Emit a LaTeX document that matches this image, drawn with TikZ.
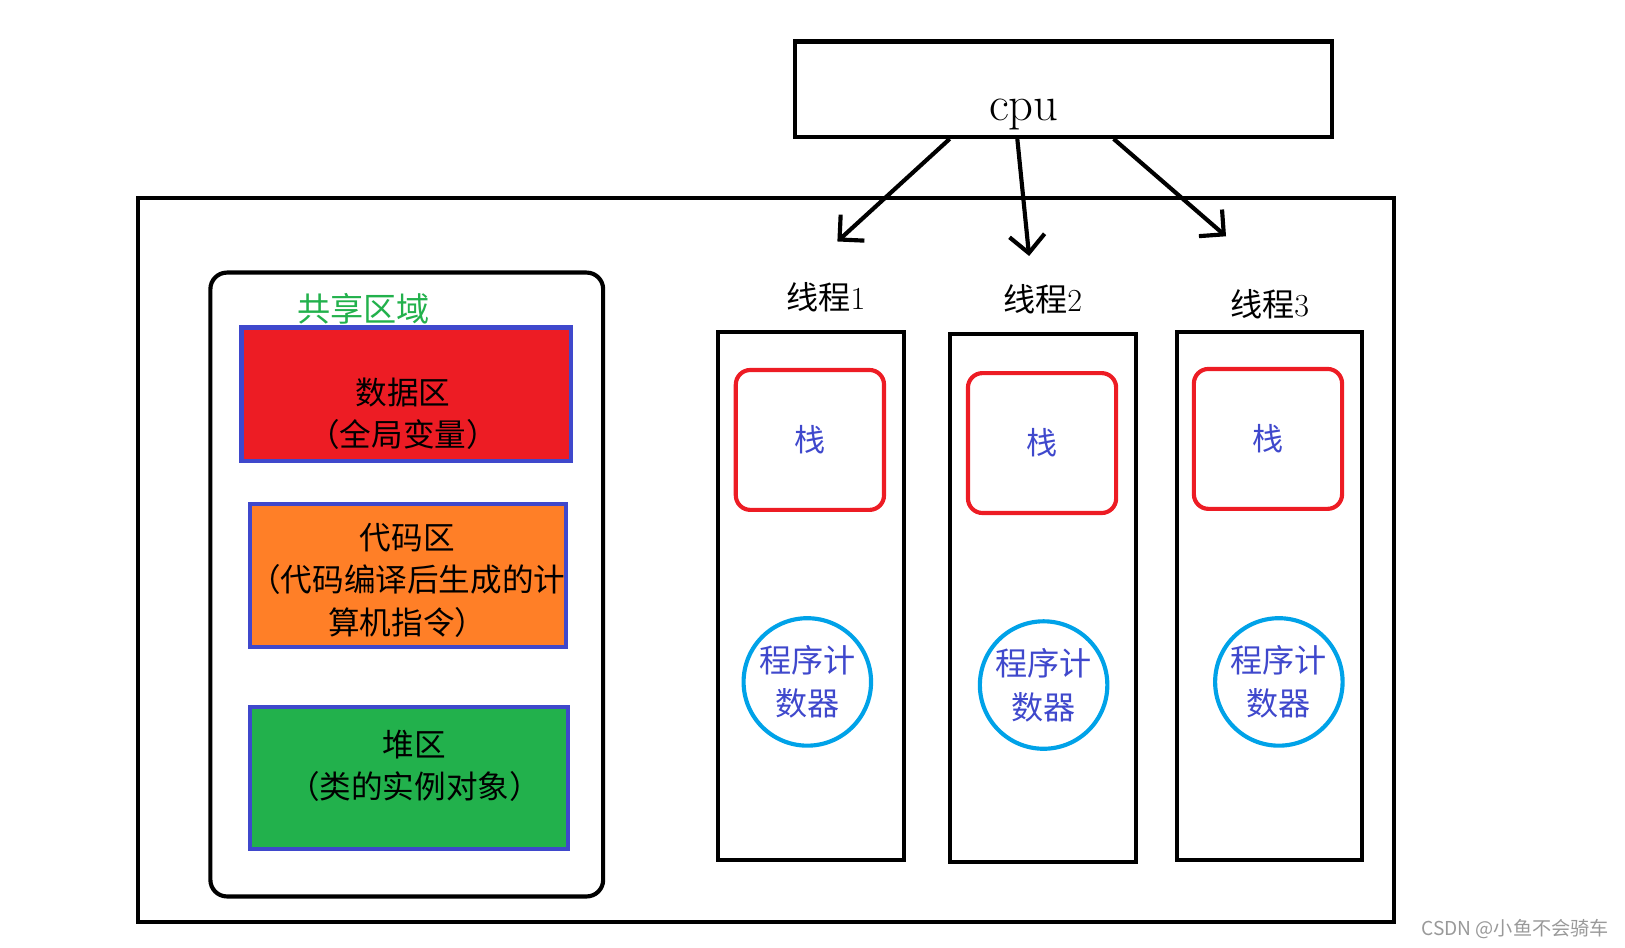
\documentclass[tikz,border=0pt]{standalone}
\usepackage{fontspec}
\newfontfamily\cjk{Noto Sans CJK SC}
\usetikzlibrary{arrows.meta,calc}
\definecolor{areared}{RGB}{237,28,36}
\definecolor{areaorange}{RGB}{255,127,39}
\definecolor{areagreen}{RGB}{34,177,76}
\definecolor{areablue}{RGB}{63,72,204}
\definecolor{pccyan}{RGB}{0,162,232}

\begin{document}
\begin{tikzpicture}[x=1pt,y=-1pt,
        frame/.style={draw,line width=4pt,inner sep=0pt},
        area/.style={frame,draw=areablue},
        areatext/.style={align=center,font=\cjk\fontsize{30.5}{41}\selectfont},
        threadbox/.style={frame,minimum width=179pt,minimum height=510pt},
        threadlabel/.style={font=\fontsize{31}{34}\selectfont},
        stackbox/.style={frame,draw=areared,rounded corners=14pt,minimum width=143pt,minimum height=135pt,
            text=areablue,font=\cjk\fontsize{30}{35}\selectfont},
        pcounter/.style={frame,circle,draw=pccyan,minimum size=123pt,align=center,
            text=areablue,font=\cjk\fontsize{31}{42}\selectfont},
        fork/.style={line width=4pt,-{Straight Barb[length=17pt,width=34pt]}}]

    \useasboundingbox (0,0) rectangle (1568,914);

    % process
    \node[frame,minimum width=1212pt,minimum height=699pt] (proc) at (739,540.5) {};

    % shared area
    \node[frame,rounded corners=16pt,minimum width=379pt,minimum height=602pt] (shared) at (392.5,564) {};
    \node[font=\cjk\fontsize{32}{36}\selectfont,text=areagreen] (sharedname) at (351,298) {共享区域};
    \node[area,fill=areared,minimum width=318pt,minimum height=129pt] (data) at (392,380.5) {};
    \node[areatext] (datatext) at (389,399) {数据区\\（全局变量）};
    \node[area,fill=areaorange,minimum width=305pt,minimum height=138pt] (code) at (393.5,555) {};
    \node[areatext] (codetext) at (393,560) {代码区\\（代码编译后生成的计\\算机指令）};
    \node[area,fill=areagreen,minimum width=307pt,minimum height=137pt] (heap) at (394.5,750.5) {};
    \node[areatext] (heaptext) at (400,739) {堆区\\（类的实例对象）};

    % threads
    \node[threadlabel] (name1) at (797,287) {{\cjk 线程}1};
    \node[threadbox] (thread1) at (782.5,575) {};
    \node[stackbox] (stack1) at (781.5,424.5) {栈};
    \node[pcounter] (pc1) at (779,658) {程序计\\数器};

    \node[threadlabel] (name2) at (1006,289) {{\cjk 线程}2};
    \node[threadbox] (thread2) at (1006.5,577) {};
    \node[stackbox] (stack2) at (1005.5,427.5) {栈};
    \node[pcounter] (pc2) at (1007,661) {程序计\\数器};

    \node[threadlabel] (name3) at (1225,294) {{\cjk 线程}3};
    \node[threadbox] (thread3) at (1225,575) {};
    \node[stackbox] (stack3) at (1223.5,423.5) {栈};
    \node[pcounter] (pc3) at (1234,658) {程序计\\数器};

    % cpu
    \node[frame,minimum width=518pt,minimum height=92pt] (cpu) at (1026,86) {};
    \node[font=\fontsize{47}{50}\selectfont] (cputext) at (988,110) {cpu};

    \coordinate (in1) at (808,233);
    \coordinate (in2) at (993,247);
    \coordinate (in3) at (1183,228);
    \draw[fork] ($(cpu.south west)!0.29!(cpu.south east)$) -- (in1);
    \draw[fork] ($(cpu.south west)!0.415!(cpu.south east)$) -- (in2);
    \draw[fork] ($(cpu.south west)!0.593!(cpu.south east)$) -- (in3);

    \node[font=\cjk\fontsize{18.5}{20}\selectfont,text=black!40] (mark) at (1462,896) {CSDN @小鱼不会骑车};
\end{tikzpicture}
\end{document}
